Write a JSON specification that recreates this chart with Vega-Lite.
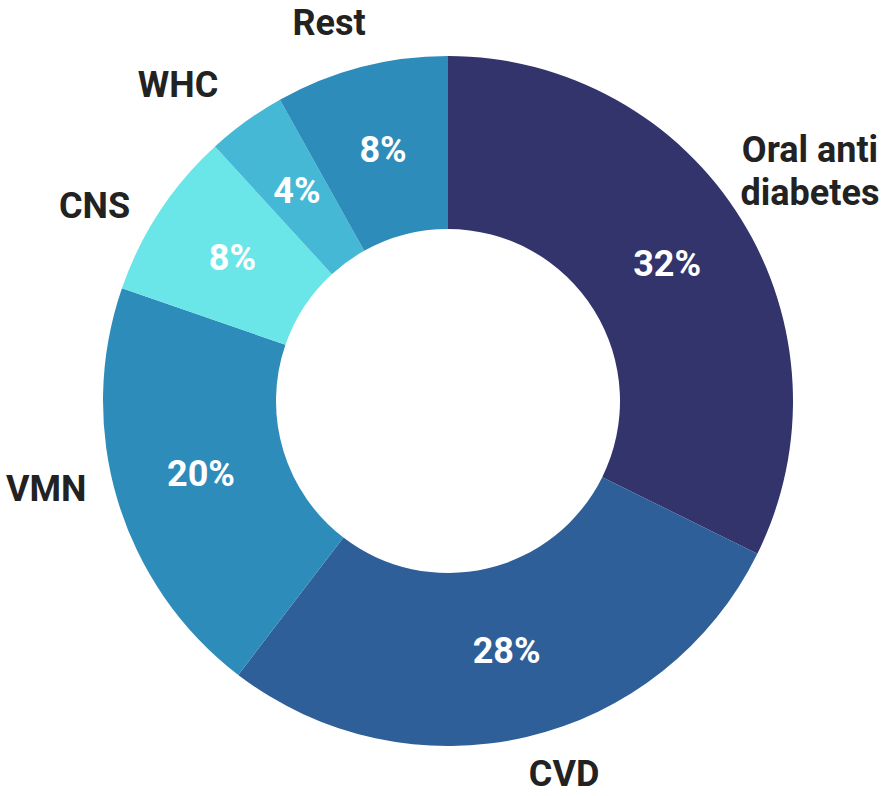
{
  "$schema": "https://vega.github.io/schema/vega-lite/v6.json",
  "width": 886,
  "height": 792,
  "autosize": "none",
  "padding": {"left": 5, "top": 5, "right": 0, "bottom": 0},
  "background": "white",
  "config": {"view": {"stroke": null}, "text": {"font": "Roboto", "fontWeight": "bold", "fontSize": 36, "align": "center", "baseline": "middle"}},
  "data": {
    "values": [
      {"category": "Oral anti diabetes", "label": ["Oral anti", "diabetes"], "value": 32.3, "pct": "32%", "ord": 1},
      {"category": "CVD", "label": "CVD", "value": 28.1, "pct": "28%", "ord": 2},
      {"category": "VMN", "label": "VMN", "value": 19.9, "pct": "20%", "ord": 3},
      {"category": "CNS", "label": "CNS", "value": 7.9, "pct": "8%", "ord": 4},
      {"category": "WHC", "label": "WHC", "value": 3.7, "pct": "4%", "ord": 5},
      {"category": "Rest", "label": "Rest", "value": 8.1, "pct": "8%", "ord": 6}
    ]
  },
  "encoding": {
    "theta": {"field": "value", "type": "quantitative", "stack": true},
    "order": {"field": "ord", "type": "quantitative"}
  },
  "layer": [
    {
      "mark": {"type": "arc", "outerRadius": 345, "innerRadius": 172},
      "encoding": {
        "color": {
          "field": "category",
          "type": "nominal",
          "legend": null,
          "scale": {
            "domain": ["Oral anti diabetes", "CVD", "VMN", "CNS", "WHC", "Rest"],
            "range": ["#32346b", "#2e5f98", "#2e8cba", "#6ae6e8", "#45b8d6", "#2e8cba"]
          }
        }
      }
    },
    {
      "mark": {"type": "text", "radius": 258, "fill": "white", "fontSize": 36},
      "encoding": {"text": {"field": "pct"}}
    },
    {
      "mark": {"type": "text", "radius": 405, "fill": "#222222", "lineHeight": 43, "dx": 18, "dy": -36},
      "encoding": {"text": {"condition": {"test": "datum.category === 'Oral anti diabetes'", "field": "label"}, "value": ""}}
    },
    {
      "mark": {"type": "text", "radius": 405, "fill": "#222222", "dx": 24, "dy": -20},
      "encoding": {"text": {"condition": {"test": "datum.category === 'CVD'", "field": "label"}, "value": ""}}
    },
    {
      "mark": {"type": "text", "radius": 405, "fill": "#222222", "dx": -14, "dy": -28},
      "encoding": {"text": {"condition": {"test": "datum.category === 'VMN'", "field": "label"}, "value": ""}}
    },
    {
      "mark": {"type": "text", "radius": 405, "fill": "#222222", "dx": -15, "dy": 28},
      "encoding": {"text": {"condition": {"test": "datum.category === 'CNS'", "field": "label"}, "value": ""}}
    },
    {
      "mark": {"type": "text", "radius": 405, "fill": "#222222", "dx": -33, "dy": 13},
      "encoding": {"text": {"condition": {"test": "datum.category === 'WHC'", "field": "label"}, "value": ""}}
    },
    {
      "mark": {"type": "text", "radius": 405, "fill": "#222222", "dx": -17, "dy": 15},
      "encoding": {"text": {"condition": {"test": "datum.category === 'Rest'", "field": "label"}, "value": ""}}
    }
  ]
}
